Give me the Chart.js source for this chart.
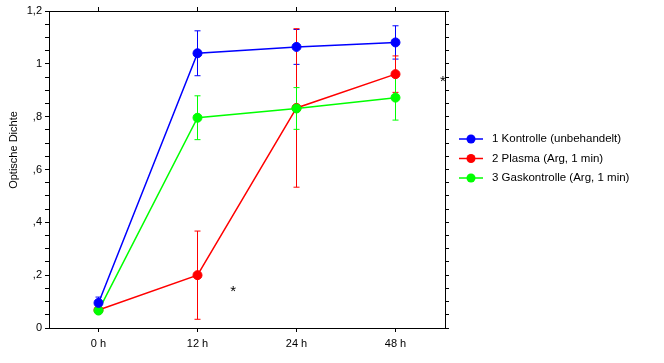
<!DOCTYPE html>
<html>
<head>
<meta charset="utf-8">
<script src="https://cdn.jsdelivr.net/npm/chart.js@4"></script>
<style>
  html, body { margin: 0; padding: 0; background: #fff; }
  #wrap { width: 664px; height: 363px; }
</style>
</head>
<body>
<div id="wrap"><canvas id="odChart" width="664" height="363"></canvas></div>
<script>
// Data
const categories = ['0 h', '12 h', '24 h', '48 h'];
const seriesNames = ['1 Kontrolle (unbehandelt)', '2 Plasma (Arg, 1 min)', '3 Gaskontrolle (Arg, 1 min)'];
const kontrolle = [0.095, 1.040, 1.064, 1.081];
const kontrolleErr = [0.022, 0.085, 0.066, 0.063];
const plasma = [0.068, 0.200, 0.833, 0.961];
const plasmaErr = [0.000, 0.167, 0.300, 0.069];
const gaskontrolle = [0.066, 0.796, 0.831, 0.872];
const gaskontrolleErr = [0.000, 0.083, 0.079, 0.085];
// significance markers: [category index position, value]
const starMarks = [[1.36, 0.15], [3.48, 0.945]];

const colors = ['#0000ff', '#ff0000', '#00ff00'];
const FONT = 'Liberation Sans, Arial, sans-serif';

Chart.defaults.font.family = FONT;
Chart.defaults.font.size = 11;
Chart.defaults.color = '#000';

// error bars, drawn under the points
const errorBars = {
    id: 'errorBars',
    beforeDatasetsDraw(chart) {
        const ctx = chart.ctx;
        const y = chart.scales.y;
        chart.data.datasets.forEach((ds, i) => {
            const meta = chart.getDatasetMeta(i);
            ctx.save();
            ctx.strokeStyle = ds.borderColor;
            ctx.lineWidth = 1;
            meta.data.forEach((pt, j) => {
                const e = ds.errors[j];
                if (!e) return;
                const top = y.getPixelForValue(ds.data[j] + e);
                const bot = y.getPixelForValue(ds.data[j] - e);
                ctx.beginPath();
                ctx.moveTo(pt.x, top); ctx.lineTo(pt.x, bot);
                ctx.moveTo(pt.x - 3, top); ctx.lineTo(pt.x + 3, top);
                ctx.moveTo(pt.x - 3, bot); ctx.lineTo(pt.x + 3, bot);
                ctx.stroke();
            });
            ctx.restore();
        });
    }
};

// legend, axis title and asterisks
const extras = {
    id: 'extras',
    afterDraw(chart) {
        const ctx = chart.ctx;
        const xs = chart.scales.x, ys = chart.scales.y;
        ctx.save();
        ctx.fillStyle = '#000';
        ctx.textBaseline = 'middle';
        ctx.font = '11.5px ' + FONT;
        seriesNames.forEach((name, i) => {
            const ly = 139 + i * 19.5;
            ctx.strokeStyle = colors[i];
            ctx.lineWidth = 1.5;
            ctx.beginPath();
            ctx.moveTo(459, ly); ctx.lineTo(483, ly);
            ctx.stroke();
            ctx.fillStyle = colors[i];
            ctx.beginPath();
            ctx.arc(471, ly, 4.5, 0, Math.PI * 2);
            ctx.fill();
            ctx.fillStyle = '#000';
            ctx.textAlign = 'left';
            ctx.fillText(name, 492, ly);
        });

        // y title
        ctx.font = '11px ' + FONT;
        ctx.save();
        ctx.translate(14, 150);
        ctx.rotate(-Math.PI / 2);
        ctx.textAlign = 'center';
        ctx.fillText('Optische Dichte', 0, 0);
        ctx.restore();

        // asterisks
        ctx.font = '15px ' + FONT;
        ctx.textAlign = 'center';
        starMarks.forEach(([cx, v]) => {
            const px = xs.getPixelForValue(0) + cx * (xs.getPixelForValue(1) - xs.getPixelForValue(0));
            ctx.fillText('*', px, ys.getPixelForValue(v) + 3);
        });
        ctx.restore();
    }
};

function makeDataset(i, data, errors, order) {
    return {
        label: seriesNames[i],
        data: data,
        errors: errors,
        borderColor: colors[i],
        backgroundColor: colors[i],
        pointBackgroundColor: colors[i],
        pointBorderColor: colors[i],
        pointRadius: 4.5,
        pointBorderWidth: 1,
        borderWidth: 1.5,
        tension: 0,
        order: order
    };
}

const ctx = document.getElementById('odChart').getContext('2d');
const odChart = new Chart(ctx, {
    type: 'line',
    data: {
        labels: categories,
        datasets: [
            makeDataset(0, kontrolle, kontrolleErr, 0),
            makeDataset(1, plasma, plasmaErr, 2),
            makeDataset(2, gaskontrolle, gaskontrolleErr, 1)
        ]
    },
    options: {
        responsive: false,
        animation: false,
        layout: { padding: 0 },
        plugins: {
            legend: { display: false },
            tooltip: { enabled: false }
        },
        scales: {
            x: {
                type: 'category',
                position: 'bottom',
                offset: true,
                grid: { offset: false, drawOnChartArea: false, tickLength: 4, color: '#000' },
                border: { color: '#000', width: 1 },
                ticks: { padding: 5, maxRotation: 0 },
                afterFit: s => { s.height = 35; }
            },
            x2: {
                type: 'category',
                position: 'top',
                labels: categories,
                offset: true,
                grid: { offset: false, drawOnChartArea: false, tickLength: 4, color: '#000' },
                border: { color: '#000', width: 1 },
                ticks: { callback: () => '' },
                afterFit: s => { s.height = 11; }
            },
            y: {
                position: 'left',
                min: 0,
                max: 1.2,
                grid: { drawOnChartArea: false, tickLength: 4, color: '#000' },
                border: { color: '#000', width: 1 },
                ticks: {
                    stepSize: 0.05,
                    autoSkip: false,
                    padding: 3,
                    callback: v => {
                        const r = Math.round(v * 100);
                        if (r % 20 !== 0) return '';
                        if (r === 0) return '0';
                        if (r === 100) return '1';
                        const s = (r / 100).toFixed(1).replace('.', ',');
                        return s.startsWith('0') ? s.slice(1) : s;
                    }
                },
                afterFit: s => { s.width = 49; }
            },
            y2: {
                position: 'right',
                min: 0,
                max: 1.2,
                grid: { drawOnChartArea: false, tickLength: 4, color: '#000' },
                border: { color: '#000', width: 1 },
                ticks: { stepSize: 0.05, autoSkip: false, callback: () => '' },
                afterFit: s => { s.width = 219; }
            }
        }
    },
    plugins: [errorBars, extras]
});
</script>
</body>
</html>
